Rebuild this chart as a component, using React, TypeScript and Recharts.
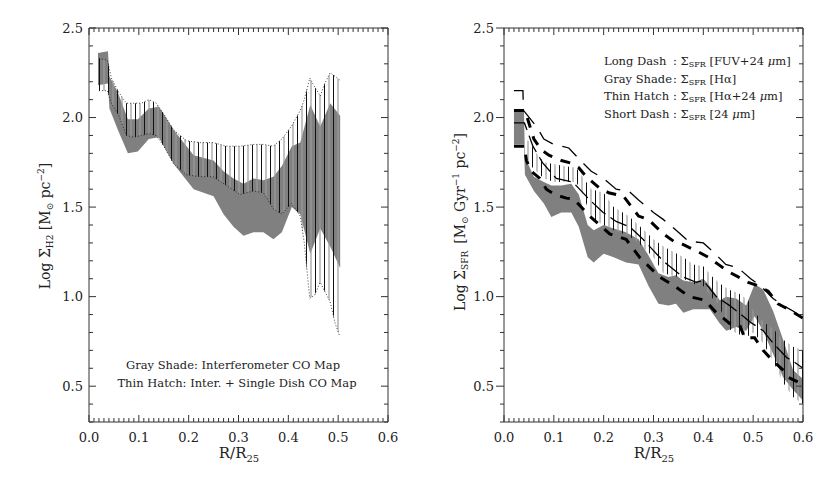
import React from "react";
import { Area, ComposedChart, Line, ReferenceArea, XAxis, YAxis } from "recharts";

const W = 415;
const H = 479;
const MARGIN = { top: 28, right: 27, bottom: 27, left: 49 };
const Y_AXIS_W = 40;
const X_AXIS_H = 30;
const PLOT_LEFT = MARGIN.left + Y_AXIS_W;
const PLOT_RIGHT = W - MARGIN.right;
const PLOT_TOP = MARGIN.top;
const PLOT_BOTTOM = H - MARGIN.bottom - X_AXIS_H;
const FONT = "'DejaVu Serif', serif";
const INK = "#222";
const FRAME = "#333";
const SHADE = "#808080";
const X_DOM: [number, number] = [0, 0.6];
const Y_DOM: [number, number] = [0.3, 2.5];

// tick labels
const X_TICKS = [0, 0.1, 0.2, 0.3, 0.4, 0.5, 0.6];
const Y_TICKS = [0.5, 1.0, 1.5, 2.0, 2.5];
const X_MINOR = Array.from({ length: 61 }, (_, i) => i / 100);
const Y_MINOR = Array.from({ length: 23 }, (_, i) => (3 + i) / 10);

// left panel: H2 surface density
const h2ShadeR = [0.018, 0.038, 0.041, 0.058, 0.078, 0.098, 0.12, 0.14, 0.15, 0.17, 0.21, 0.25, 0.27, 0.29, 0.31, 0.33, 0.35, 0.37, 0.387, 0.407, 0.424, 0.444, 0.464, 0.484, 0.504];
const h2ShadeHi = [2.36, 2.37, 2.23, 2.14, 1.99, 1.99, 2.05, 2.06, 2.02, 1.93, 1.79, 1.76, 1.7, 1.66, 1.63, 1.66, 1.65, 1.67, 1.73, 1.84, 1.86, 2.07, 1.95, 2.08, 2.01];
const h2ShadeLo = [2.18, 2.19, 2.05, 1.93, 1.8, 1.81, 1.88, 1.89, 1.84, 1.74, 1.6, 1.56, 1.46, 1.39, 1.34, 1.36, 1.36, 1.32, 1.36, 1.5, 1.46, 1.24, 1.38, 1.28, 1.16];

const h2HatchR = [0.02, 0.037, 0.045, 0.06, 0.075, 0.09, 0.105, 0.12, 0.135, 0.15, 0.17, 0.196, 0.223, 0.249, 0.276, 0.303, 0.33, 0.35, 0.37, 0.387, 0.406, 0.424, 0.432, 0.443, 0.453, 0.464, 0.473, 0.484, 0.494, 0.503];
const h2HatchHi = [2.33, 2.32, 2.22, 2.14, 2.08, 2.08, 2.08, 2.1, 2.08, 2.02, 1.93, 1.87, 1.86, 1.86, 1.84, 1.84, 1.85, 1.85, 1.84, 1.88, 1.95, 2.04, 2.1, 2.22, 2.17, 2.12, 2.19, 2.25, 2.23, 2.21];
const h2HatchLo = [2.15, 2.15, 2.08, 2.01, 1.9, 1.89, 1.9, 1.91, 1.9, 1.84, 1.74, 1.68, 1.67, 1.67, 1.62, 1.57, 1.59, 1.58, 1.49, 1.46, 1.52, 1.45, 1.3, 0.99, 1.01, 1.08, 1.03, 0.97, 0.85, 0.78];

// right panel: SFR surface density
const haShadeR = [0.02, 0.04, 0.042, 0.06, 0.08, 0.095, 0.115, 0.135, 0.15, 0.168, 0.18, 0.2, 0.22, 0.245, 0.27, 0.29, 0.31, 0.33, 0.345, 0.36, 0.38, 0.4, 0.413, 0.433, 0.446, 0.466, 0.486, 0.503, 0.52, 0.54, 0.56, 0.58, 0.6];
const haShadeHi = [2.04, 2.04, 1.78, 1.67, 1.64, 1.62, 1.62, 1.63, 1.57, 1.4, 1.37, 1.4, 1.38, 1.36, 1.32, 1.23, 1.13, 1.11, 1.12, 1.09, 1.08, 1.1, 1.06, 0.98, 1.0, 0.99, 0.95, 1.07, 1.04, 0.92, 0.76, 0.59, 0.54];
const haShadeLo = [1.85, 1.85, 1.68, 1.59, 1.52, 1.445, 1.47, 1.47, 1.39, 1.22, 1.19, 1.24, 1.22, 1.19, 1.18, 1.06, 0.96, 0.95, 0.96, 0.91, 0.93, 0.93, 0.93, 0.85, 0.81, 0.83, 0.81, 0.89, 0.81, 0.68, 0.55, 0.48, 0.42];

const mixHatchR = [0.042, 0.05, 0.065, 0.08, 0.1, 0.12, 0.145, 0.16, 0.175, 0.2, 0.22, 0.25, 0.27, 0.3, 0.32, 0.36, 0.38, 0.4, 0.415, 0.43, 0.45, 0.47, 0.49, 0.5, 0.52, 0.54, 0.56, 0.58, 0.6];
const mixHatchHi = [1.87, 1.87, 1.8, 1.75, 1.74, 1.73, 1.72, 1.66, 1.6, 1.58, 1.5, 1.45, 1.4, 1.32, 1.28, 1.22, 1.18, 1.17, 1.12, 1.08, 1.04, 1.02, 0.98, 0.92, 0.86, 0.82, 0.76, 0.72, 0.7];
const mixHatchLo = [1.76, 1.74, 1.7, 1.66, 1.64, 1.64, 1.64, 1.56, 1.44, 1.4, 1.37, 1.34, 1.3, 1.22, 1.13, 1.1, 1.07, 1.06, 1.0, 0.96, 0.82, 0.79, 0.78, 0.8, 0.74, 0.64, 0.52, 0.44, 0.4];

// long dash (FUV+24um), upper and lower edge
const fuvHiR = [0.02, 0.038, 0.039, 0.065, 0.08, 0.1, 0.13, 0.15, 0.175, 0.2, 0.225, 0.25, 0.27, 0.3, 0.32, 0.35, 0.37, 0.4, 0.42, 0.445, 0.47, 0.495, 0.515, 0.54, 0.56, 0.58, 0.6];
const fuvHi = [2.15, 2.15, 2.04, 1.95, 1.88, 1.85, 1.83, 1.77, 1.7, 1.66, 1.6, 1.59, 1.54, 1.47, 1.43, 1.36, 1.31, 1.3, 1.25, 1.18, 1.16, 1.1, 1.06, 0.99, 0.95, 0.92, 0.88];
const fuvLoR = [0.02, 0.041, 0.058, 0.078, 0.105, 0.138, 0.172, 0.199, 0.225, 0.252, 0.279, 0.319, 0.359, 0.386, 0.4, 0.426, 0.453, 0.48, 0.493, 0.52, 0.54, 0.567, 0.58, 0.6];
const fuvLo = [1.97, 1.97, 1.84, 1.745, 1.66, 1.64, 1.54, 1.47, 1.42, 1.39, 1.32, 1.2, 1.11, 1.08, 1.09, 1.0, 0.95, 0.89, 0.86, 0.81, 0.74, 0.66, 0.64, 0.6];

// short dash (24um), upper and lower edge
const irHiR = [0.02, 0.042, 0.06, 0.075, 0.09, 0.115, 0.135, 0.15, 0.165, 0.19, 0.21, 0.24, 0.27, 0.29, 0.32, 0.34, 0.36, 0.39, 0.41, 0.43, 0.45, 0.47, 0.49, 0.51, 0.53, 0.55, 0.57, 0.6];
const irHi = [2.04, 2.04, 1.88, 1.82, 1.79, 1.76, 1.745, 1.72, 1.67, 1.61, 1.58, 1.56, 1.45, 1.43, 1.35, 1.31, 1.29, 1.25, 1.22, 1.18, 1.14, 1.11, 1.08, 1.06, 1.03, 0.96, 0.93, 0.88];
const irLoR = [0.02, 0.041, 0.045, 0.055, 0.072, 0.085, 0.102, 0.125, 0.14, 0.172, 0.212, 0.245, 0.272, 0.292, 0.312, 0.339, 0.372, 0.403, 0.426, 0.44, 0.453, 0.473, 0.483, 0.503, 0.52, 0.54, 0.56, 0.57, 0.6];
const irLo = [1.84, 1.84, 1.76, 1.7, 1.66, 1.6, 1.57, 1.55, 1.545, 1.45, 1.35, 1.32, 1.22, 1.165, 1.11, 1.065, 1.0, 0.98, 0.91, 0.88, 0.85, 0.84, 0.77, 0.77, 0.7, 0.64, 0.59, 0.55, 0.51];

const band = (r: number[], lo: number[], hi: number[]) =>
  r.map((x, i) => ({ r: x, v: [lo[i], hi[i]] }));
const curve = (r: number[], v: number[]) => r.map((x, i) => ({ r: x, v: v[i] }));

const fmt = (v: number) => v.toFixed(1);
const isMajor = (list: number[], v: number) => list.some((t) => Math.abs(t - v) < 1e-6);
const tickFont = { fontFamily: FONT, fontSize: 13, fill: INK };

// IDL-style ticks: inward on all four sides, minor every 0.01 / 0.1
function XTick(props: any) {
  const { x, y, payload } = props;
  const major = isMajor(X_TICKS, payload.value);
  const len = major ? 7 : 4;
  return (
    <g>
      <line x1={x} x2={x} y1={PLOT_BOTTOM} y2={PLOT_BOTTOM - len} stroke={FRAME} />
      <line x1={x} x2={x} y1={PLOT_TOP} y2={PLOT_TOP + len} stroke={FRAME} />
      {major ? (
        <text x={x} y={y} dy="0.71em" textAnchor="middle" {...tickFont}>
          {fmt(payload.value)}
        </text>
      ) : null}
    </g>
  );
}

function YTick(props: any) {
  const { x, y, payload, outward } = props;
  const major = isMajor(Y_TICKS, payload.value);
  const len = major ? 7 : 4;
  const leftEnd = outward ? PLOT_LEFT - (major ? 8 : 4) : PLOT_LEFT + len;
  return (
    <g>
      <line x1={PLOT_LEFT} x2={leftEnd} y1={y} y2={y} stroke={FRAME} />
      <line x1={PLOT_RIGHT} x2={PLOT_RIGHT - len} y1={y} y2={y} stroke={FRAME} />
      {major ? (
        <text x={x} y={y} dy="0.355em" textAnchor="end" {...tickFont}>
          {fmt(payload.value)}
        </text>
      ) : null}
    </g>
  );
}

function frameAxes(outwardLeft: boolean) {
  return [
    <XAxis key="x" xAxisId="x" dataKey="r" type="number" domain={X_DOM} allowDataOverflow
      height={X_AXIS_H} ticks={X_MINOR} interval={0} tickSize={0} tickMargin={11}
      tickLine={false} axisLine={false} tick={(p: any) => <XTick {...p} />} />,
    <YAxis key="y" yAxisId="y" type="number" domain={Y_DOM} allowDataOverflow
      width={Y_AXIS_W} ticks={Y_MINOR} interval={0} tickSize={0} tickMargin={outwardLeft ? 10 : 6}
      tickLine={false} axisLine={false} tick={(p: any) => <YTick {...p} outward={outwardLeft} />} />,
    <ReferenceArea key="box" xAxisId="x" yAxisId="y" x1={X_DOM[0]} x2={X_DOM[1]} y1={Y_DOM[0]} y2={Y_DOM[1]}
      fill="none" fillOpacity={0} stroke={FRAME} strokeWidth={1} ifOverflow="visible" />,
  ];
}

function hatchDef(id: string) {
  return (
    <defs>
      <pattern id={id} patternUnits="userSpaceOnUse" width={9} height={10}>
        <line x1={0.5} y1={0} x2={0.5} y2={10} stroke="#111" strokeWidth={1} />
        <line x1={5} y1={0} x2={5} y2={10} stroke="#9a9a9a" strokeWidth={1.2} />
      </pattern>
    </defs>
  );
}

const seriesAxes = { xAxisId: "x", yAxisId: "y" };

function H2Panel() {
  return (
    <ComposedChart width={W} height={H} margin={MARGIN}>
      {hatchDef("hatch-l")}
      {frameAxes(false)}
      <Area data={band(h2ShadeR, h2ShadeLo, h2ShadeHi)} dataKey="v" {...seriesAxes} type="linear"
        stroke="none" fill={SHADE} fillOpacity={1} dot={false} activeDot={false} isAnimationActive={false} />
      <Area data={band(h2HatchR, h2HatchLo, h2HatchHi)} dataKey="v" {...seriesAxes} type="linear"
        stroke="#111" strokeWidth={0.8} strokeDasharray="1 2" fill="url(#hatch-l)" fillOpacity={1}
        dot={false} activeDot={false} isAnimationActive={false} />
    </ComposedChart>
  );
}

function SfrPanel() {
  return (
    <ComposedChart width={W} height={H} margin={MARGIN}>
      {hatchDef("hatch-r")}
      {frameAxes(true)}
      <Area data={band(haShadeR, haShadeLo, haShadeHi)} dataKey="v" {...seriesAxes} type="linear"
        stroke="none" fill={SHADE} fillOpacity={1} dot={false} activeDot={false} isAnimationActive={false} />
      <Area data={band(mixHatchR, mixHatchLo, mixHatchHi)} dataKey="v" {...seriesAxes} type="linear"
        stroke="none" fill="url(#hatch-r)" fillOpacity={1} dot={false} activeDot={false} isAnimationActive={false} />
      <Line data={curve(fuvHiR, fuvHi)} dataKey="v" {...seriesAxes} type="linear" stroke="#000"
        strokeWidth={1.3} strokeDasharray="18 10" dot={false} activeDot={false} isAnimationActive={false} />
      <Line data={curve(fuvLoR, fuvLo)} dataKey="v" {...seriesAxes} type="linear" stroke="#000"
        strokeWidth={1.3} strokeDasharray="18 6" dot={false} activeDot={false} isAnimationActive={false} />
      <Line data={curve(irHiR, irHi)} dataKey="v" {...seriesAxes} type="linear" stroke="#000"
        strokeWidth={3} strokeDasharray="10 9" dot={false} activeDot={false} isAnimationActive={false} />
      <Line data={curve(irLoR, irLo)} dataKey="v" {...seriesAxes} type="linear" stroke="#000"
        strokeWidth={3} strokeDasharray="10 9" dot={false} activeDot={false} isAnimationActive={false} />
    </ComposedChart>
  );
}

const SUB = 9;

function Overlay() {
  const t = { fontFamily: FONT, fill: INK };
  const legend = [
    ["Long Dash", "FUV+24 "],
    ["Gray Shade", "H\u03b1"],
    ["Thin Hatch", "H\u03b1+24 "],
    ["Short Dash", "24 "],
  ];
  return (
    <svg width={830} height={479} style={{ position: "absolute", left: 0, top: 0, pointerEvents: "none" }}>
      <text {...t} fontSize={14} textAnchor="middle" transform="translate(50 226) rotate(-90)">
        Log {"\u03a3"}
        <tspan fontSize={SUB} dy={3}>H2</tspan>
        <tspan dy={-3}> [M</tspan>
        <tspan fontSize={SUB} dy={3}>{"\u2299"}</tspan>
        <tspan dy={-3}> pc</tspan>
        <tspan fontSize={SUB} dy={-6}>{"\u22122"}</tspan>
        <tspan dy={6}>]</tspan>
      </text>
      <text {...t} fontSize={14} textAnchor="middle" transform="translate(465 222) rotate(-90)">
        Log {"\u03a3"}
        <tspan fontSize={SUB} dy={3}>SFR</tspan>
        <tspan dy={-3} dx={7}>[M</tspan>
        <tspan fontSize={SUB} dy={3}>{"\u2299"}</tspan>
        <tspan dy={-3}> Gyr</tspan>
        <tspan fontSize={SUB} dy={-6}>{"\u22121"}</tspan>
        <tspan dy={6}> pc</tspan>
        <tspan fontSize={SUB} dy={-6}>{"\u22122"}</tspan>
        <tspan dy={6}>]</tspan>
      </text>
      {[239, 654].map((cx) => (
        <text key={cx} {...t} fontSize={15} textAnchor="middle" x={cx} y={458}>
          R/R<tspan fontSize={10} dy={4}>25</tspan>
        </text>
      ))}
      <text {...t} fontSize={11.5} textAnchor="middle" x={233} y={369}>
        Gray Shade: Interferometer CO Map
      </text>
      <text {...t} fontSize={11.5} textAnchor="middle" x={237} y={387}>
        Thin Hatch: Inter. + Single Dish CO Map
      </text>
      {legend.map(([name, band], i) => (
        <text key={name} {...t} fontSize={11.5} x={604} y={65 + i * 17.7}>
          {name}
          <tspan x={673}>: {"\u03a3"}</tspan>
          <tspan fontSize={8} dy={2}>SFR</tspan>
          <tspan dy={-2}> [{band}</tspan>
          {band.endsWith(" ") ? <tspan fontStyle="italic">{"\u03bc"}</tspan> : null}
          {band.endsWith(" ") ? "m]" : "]"}
        </text>
      ))}
    </svg>
  );
}

export default function App() {
  return (
    <div style={{ position: "absolute", left: 0, top: 0, width: 830, height: 479, background: "#fff" }}>
      <div style={{ position: "absolute", left: 0, top: 0 }}>
        <H2Panel />
      </div>
      <div style={{ position: "absolute", left: 415, top: 0 }}>
        <SfrPanel />
      </div>
      <Overlay />
    </div>
  );
}
